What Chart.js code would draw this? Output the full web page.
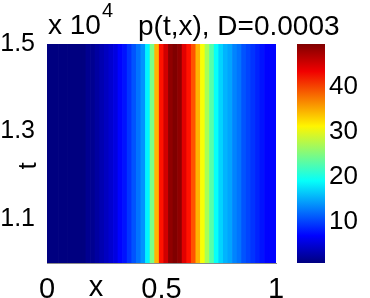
<!DOCTYPE html>
<html>
<head>
<meta charset="utf-8">
<script src="https://cdn.jsdelivr.net/npm/chart.js@4.4.1/dist/chart.umd.min.js"></script>
<style>
  body { margin: 0; background: #fff; }
  #wrap { position: relative; width: 370px; height: 298px; }
  #wrap canvas { position: absolute; left: 0; top: 0; }
</style>
</head>
<body>
<div id="wrap">
  <canvas id="heat" width="370" height="298"></canvas>
  <canvas id="cbar" width="370" height="298"></canvas>
</div>
<script>
// x grid of the profile and p(t,x) (same for every t)
var xPos = [0.00, 0.02, 0.04, 0.06, 0.08, 0.10, 0.12, 0.14, 0.16, 0.18,
            0.20, 0.22, 0.24, 0.26, 0.28, 0.30, 0.32, 0.34, 0.36, 0.38,
            0.40, 0.42, 0.44, 0.46, 0.48, 0.50, 0.52, 0.54, 0.56, 0.58,
            0.60, 0.62, 0.64, 0.66, 0.68, 0.70, 0.72, 0.74, 0.76, 0.78,
            0.80, 0.82, 0.84, 0.86, 0.88, 0.90, 0.92, 0.94, 0.96, 0.98, 1.00];
var pValues = [1.2, 1.2, 1.2, 1.3, 1.3, 1.4, 1.5, 1.6, 1.7, 1.9,
               2.4, 3.0, 3.6, 4.4, 5.2, 6.2, 7.2, 8.2, 9.5, 11.0,
               12.5, 14.0, 19.0, 25.0, 35.0, 42.0, 45.5, 48.6, 49.4, 48.2,
               44.5, 42.0, 39.5, 35.0, 31.0, 27.0, 23.0, 19.6, 17.2, 16.0,
               14.8, 13.6, 12.6, 11.5, 10.4, 9.6, 8.8, 8.1, 7.6, 7.3, 7.1];
var tRange = [1.0, 1.5];       // x 10^4
var tTicks = [1.1, 1.3, 1.5];
var xTicks = [0, 0.5, 1];
var cRange = [1.0, 49.4];
var cTicks = [10, 20, 30, 40];

var FONT = '"Liberation Sans", Arial, sans-serif';

function jetColor(f) {
    f = Math.max(0, Math.min(1, f));
    var idx = Math.min(63, Math.floor(f * 64));
    f = idx / 63;
    var c = function (v) { return Math.round(255 * Math.max(0, Math.min(1, v))); };
    var r = c(1.5 - Math.abs(4 * f - 3));
    var g = c(1.5 - Math.abs(4 * f - 2));
    var b = c(1.5 - Math.abs(4 * f - 1));
    return 'rgb(' + r + ',' + g + ',' + b + ')';
}

function valueColor(v) {
    return jetColor((v - cRange[0]) / (cRange[1] - cRange[0]));
}

var textPlugin = {
    id: 'texts',
    afterDraw: function (chart) {
        var ctx = chart.ctx, a = chart.chartArea;
        ctx.save();
        ctx.fillStyle = '#000';
        ctx.textBaseline = 'alphabetic';
        ctx.textAlign = 'left';
        ctx.font = '28px ' + FONT;
        ctx.fillText('x 10', a.left + 1, 34);
        ctx.font = '20px ' + FONT;
        ctx.fillText('4', a.left + 55, 17);
        ctx.font = '28px ' + FONT;
        ctx.fillText('p(t,x), D=0.0003', 138, 35);
        ctx.textAlign = 'center';
        ctx.font = '29px ' + FONT;
        ctx.fillText('x', 96, 296);
        ctx.translate(36, 166);
        ctx.rotate(-Math.PI / 2);
        ctx.font = '26px ' + FONT;
        ctx.fillText('t', 0, 0);
        ctx.restore();
    }
};

new Chart(document.getElementById('heat'), {
    type: 'bar',
    data: {
        datasets: [{
            data: xPos.map(function (x) { return {x: x, y: tRange}; }),
            backgroundColor: pValues.map(valueColor),
            borderWidth: 0,
            barPercentage: 1.15,
            categoryPercentage: 1
        }]
    },
    options: {
        responsive: false,
        animation: false,
        devicePixelRatio: 1,
        layout: {padding: {top: 44, right: 94, left: 0, bottom: 0}},
        plugins: {legend: {display: false}, tooltip: {enabled: false}},
        scales: {
            x: {
                type: 'linear', min: 0, max: 1, offset: false, z: 1,
                grid: {display: false, drawTicks: false},
                border: {display: true, color: '#8c8c8c', width: 1},
                afterBuildTicks: function (s) { s.ticks = xTicks.map(function (v) { return {value: v}; }); },
                afterFit: function (s) { s.height = 35; },
                ticks: {color: '#000', padding: 10, maxRotation: 0, font: {family: FONT, size: 29},
                        callback: function (v) { return String(v); }}
            },
            y: {
                type: 'linear', min: tRange[0], max: tRange[1], z: 1,
                grid: {display: false, drawTicks: false},
                border: {display: true, color: '#8c8c8c', width: 1},
                afterBuildTicks: function (s) { s.ticks = tTicks.map(function (v) { return {value: v}; }); },
                afterFit: function (s) { s.width = 47; },
                ticks: {color: '#000', padding: 12, font: {family: FONT, size: 25},
                        callback: function (v) { return v.toFixed(1); }}
            }
        }
    },
    plugins: [textPlugin]
});

new Chart(document.getElementById('cbar'), {
    type: 'bar',
    data: {
        labels: ['p'],
        datasets: [{
            data: [cRange],
            backgroundColor: function (c) {
                var ca = c.chart.chartArea;
                if (!ca) return 'blue';
                var g = c.chart.ctx.createLinearGradient(0, ca.bottom, 0, ca.top);
                [0, 0.125, 0.375, 0.625, 0.875, 1].forEach(function (f) {
                    g.addColorStop(f, jetColor(f));
                });
                return g;
            },
            borderWidth: 0,
            barPercentage: 1,
            categoryPercentage: 1
        }]
    },
    options: {
        responsive: false,
        animation: false,
        devicePixelRatio: 1,
        layout: {padding: {top: 44, right: 0, left: 297, bottom: 35}},
        plugins: {legend: {display: false}, tooltip: {enabled: false}},
        scales: {
            x: {display: false},
            y: {
                position: 'right', min: cRange[0], max: cRange[1],
                grid: {display: false, drawTicks: false},
                border: {display: false},
                afterBuildTicks: function (s) { s.ticks = cTicks.map(function (v) { return {value: v}; }); },
                afterFit: function (s) { s.width = 45; },
                ticks: {color: '#000', padding: 4, font: {family: FONT, size: 26}}
            }
        }
    }
});
</script>
</body>
</html>
